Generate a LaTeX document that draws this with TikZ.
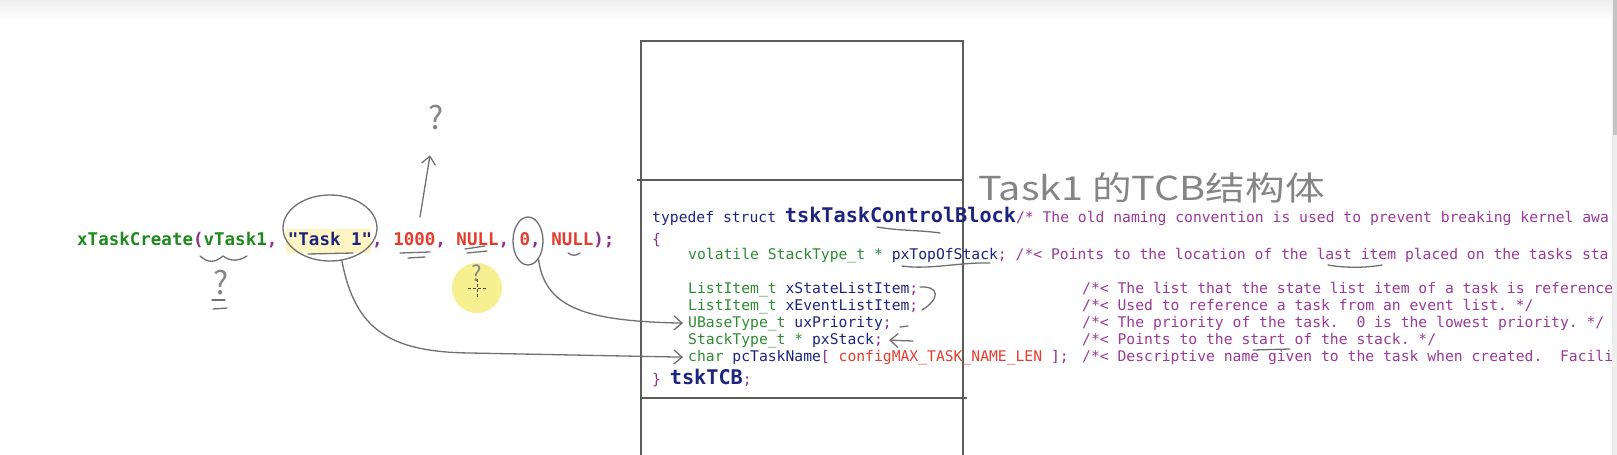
\documentclass[tikz,border=0pt]{standalone}
\usepackage{fontspec}
\usepackage{xcolor}
\usepackage{tikz}
\usetikzlibrary{arrows.meta,shapes.geometric}
\newfontfamily\codefont{DejaVu Sans Mono}
\newfontfamily\handfont{Noto Sans CJK SC}
\definecolor{tcbgreen}{HTML}{1E8A1E}
\definecolor{tcbtype}{HTML}{2E8B34}
\definecolor{tcbnavy}{HTML}{1C2480}
\definecolor{tcbpunct}{HTML}{8E2E8E}
\definecolor{tcbcomment}{HTML}{9A3A98}
\definecolor{tcbred}{HTML}{E33D2E}
\definecolor{tcbink}{HTML}{707070}
\definecolor{tcbpencil}{HTML}{858585}
\definecolor{tcbbox}{HTML}{5C5C5C}
\definecolor{tcbhilite}{HTML}{FFF5C2}
\definecolor{tcbcursor}{HTML}{F6EE7E}
\definecolor{tcbbar}{HTML}{EEEEEE}
\definecolor{tcbthumb}{HTML}{C4C4C4}
\newcommand{\tcbfn}[1]{\textcolor{tcbgreen}{#1}}
\newcommand{\tcbty}[1]{\textcolor{tcbtype}{#1}}
\newcommand{\tcbid}[1]{\textcolor{tcbnavy}{#1}}
\newcommand{\tcbpu}[1]{\textcolor{tcbpunct}{#1}}
\newcommand{\tcbnum}[1]{\textcolor{tcbred}{#1}}
\newcommand{\tcbcm}[1]{\textcolor{tcbcomment}{#1}}
\newcommand{\tcbbig}[1]{{\bfseries\fontsize{20.2}{22}\selectfont\tcbid{#1}}}
\tikzset{
  codeline/.style={anchor=base west, inner sep=0pt, font=\codefont\fontsize{14.7}{17}\selectfont},
  callline/.style={codeline, font=\codefont\bfseries\fontsize{17.5}{20}\selectfont},
  remark/.style={codeline, text=tcbcomment},
  ink/.style={draw=tcbink, line width=1.3pt, line cap=round, line join=round},
  inkarrow/.style={ink, -{Straight Barb[length=8pt,width=14pt]}},
  loop/.style={ellipse, draw=tcbink, line width=1.3pt, inner sep=0pt},
  query/.style={font=\handfont\fontsize{32}{32}\selectfont, text=tcbpencil, inner sep=1pt},
  boxline/.style={draw=tcbbox, line width=1.4pt},
}
\begin{document}
\frenchspacing
\begin{tikzpicture}[x=1pt,y=-1pt]
  \useasboundingbox (0,0) rectangle (1617,455);
  \fill[white] (0,0) rectangle (1617,455);
  \shade[top color=tcbbar, bottom color=white] (0,0) rectangle (1612,20);

  % Scroll bar
  \fill[tcbbar] (1612,0) rectangle (1617,455);
  \fill[tcbthumb] (1613,0) rectangle (1617,135);

  % Stack frame
  \draw[boxline] (641,455) -- (641,41) -- (963,41) -- (963,455);
  \draw[boxline] (637,180) -- (963,180);
  \draw[boxline] (641,398) -- (967,398);

  % Call of xTaskCreate
  \fill[tcbhilite] (286,229) rectangle (371,253);
  \node[callline] (call) at (77,245) {\tcbfn{xTaskCreate}\tcbpu{(}\tcbfn{vTask1}\tcbpu{,} \tcbid{"Task 1"}\tcbpu{,} \tcbnum{1000}\tcbpu{,} \tcbnum{NULL}\tcbpu{,} \tcbnum{0}\tcbpu{,} \tcbnum{NULL}\tcbpu{);}};

  % Cursor
  \fill[tcbcursor, opacity=0.85] (477,288) circle (25);
  \draw[gray!60!black, line width=1pt, dash pattern=on 3pt off 2pt] (477,279) -- (477,297);
  \draw[gray!60!black, line width=1pt, dash pattern=on 3pt off 2pt] (468,288) -- (486,288);

  % Struct tskTCB
  \begin{scope}
    \clip (0,0) rectangle (1611,455);
    \node[codeline] (head) at (652,222) {\tcbid{typedef struct }\tcbbig{tskTaskControlBlock}\tcbcm{/* The old naming convention is used to prevent breaking kernel awa}};
    \node[codeline] (brace) at (652,244) {\tcbpu{\{}};
    \node[codeline] (topln) at (688,259) {\tcbty{volatile StackType\_t *} \tcbid{pxTopOfStack}\tcbpu{;} \tcbcm{/*< Points to the location of the last item placed on the tasks sta}};
    \node[codeline] (stateln) at (688,293) {\tcbty{ListItem\_t} \tcbid{xStateListItem}\tcbpu{;}};
    \node[codeline] (eventln) at (688,310) {\tcbty{ListItem\_t} \tcbid{xEventListItem}\tcbpu{;}};
    \node[codeline] (prioln) at (688,327) {\tcbty{UBaseType\_t} \tcbid{uxPriority}\tcbpu{;}};
    \node[codeline] (stackln) at (688,344) {\tcbty{StackType\_t *} \tcbid{pxStack}\tcbpu{;}};
    \node[codeline] (nameln) at (688,361) {\tcbty{char} \tcbid{pcTaskName}\tcbpu{[} \tcbnum{configMAX\_TASK\_NAME\_LEN} \tcbpu{];}};
    \node[codeline] (tailln) at (652,384) {\tcbpu{\}} \tcbbig{tskTCB}\tcbpu{;}};

    \node[remark] (statecm) at (1082,293) {/*< The list that the state list item of a task is reference};
    \node[remark] (eventcm) at (1082,310) {/*< Used to reference a task from an event list. */};
    \node[remark] (priocm) at (1082,327) {/*< The priority of the task.\ \ 0 is the lowest priority. */};
    \node[remark] (stackcm) at (1082,344) {/*< Points to the start of the stack. */};
    \node[remark] (namecm) at (1082,361) {/*< Descriptive name given to the task when created.\ \ Facili};
  \end{scope}

  % Handwritten notes
  \node[anchor=west, font=\handfont\fontsize{33}{33}\selectfont, text=tcbpencil, inner sep=0pt] (tcbnote) at (978,188) {\scalebox{1.2}[1]{Task1 的TCB结构体}};

  \node[loop, minimum width=94pt, minimum height=66pt] (tname) at (330,228) {};
  \node[loop, minimum width=30pt, minimum height=48pt] (tzero) at (528,241) {};
  \node[query] (qtop) at (436,118) {?};
  \node[query] (qleft) at (221,283) {?};
  \node[query, font=\handfont\fontsize{22}{22}\selectfont] (qcur) at (477,273) {?};
  \coordinate (upfoot) at (420,217);
  \coordinate (stacktail) at (913,341);

  \draw[inkarrow, shorten >=24pt] (upfoot) -- (qtop);
  \draw[inkarrow] (tzero.-60) .. controls (545,310) and (590,321) .. ([xshift=-5pt]prioln.west);
  \draw[inkarrow] (tname.-70) .. controls (355,330) and (390,352) .. (470,353) -- ([xshift=-5pt]nameln.west);
  \draw[inkarrow] (stacktail) -- ([xshift=6pt]stackln.east);

  % Marks under the arguments
  \draw[ink] (200,256) .. controls (208,263) and (215,263) .. (223,256) .. controls (231,262) and (239,261) .. (247,256);
  \draw[ink] (212,300) -- (225,300);
  \draw[ink] (213,309) -- (227,308);
  \draw[ink] (308,254) -- (353,253);
  \draw[ink] (400,253) -- (430,252);
  \draw[ink] (408,258) -- (425,257);
  \draw[ink] (465,249) -- (485,246);
  \draw[ink] (467,253) -- (487,251);
  \draw[ink] (568,253) .. controls (572,256) and (576,256) .. (580,253);

  % Marks in the struct
  \draw[ink] (877,227) .. controls (900,231) and (920,230) .. (940,233);
  \draw[ink] (902,266) .. controls (930,270) and (960,262) .. (990,263);
  \draw[ink] (1328,265) .. controls (1345,268) and (1365,268) .. (1382,265);
  \draw[ink] (920,287) .. controls (940,286) and (940,299) .. (922,310);
  \draw[ink] (900,327) -- (908,326);
  \draw[ink] (1253,350) -- (1290,349);
\end{tikzpicture}
\end{document}
